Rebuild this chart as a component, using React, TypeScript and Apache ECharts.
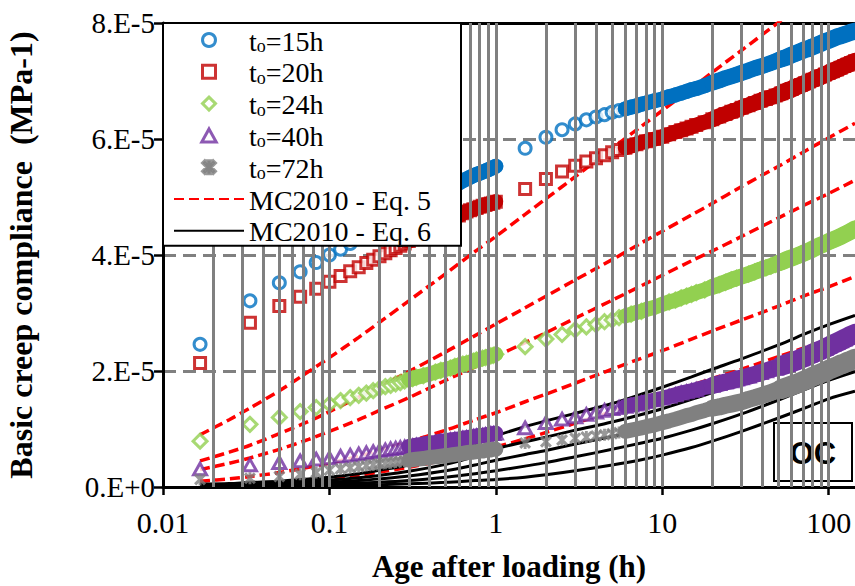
import React, { useEffect, useRef } from 'react';
import * as echarts from 'echarts';

// ---- measured data: age after loading (h) ----
const TIME_H = [
  0.0167, 0.0333, 0.05, 0.0667, 0.0833, 0.1, 0.1167, 0.1333, 0.15, 0.1667,
  0.1833, 0.2, 0.2167, 0.2333, 0.25, 0.2667, 0.2833, 0.3, 0.3167, 0.3333,
  0.3667, 0.4, 0.4333, 0.4667, 0.5, 0.5333, 0.5667, 0.6, 0.6333, 0.6667,
  0.7, 0.7333, 0.7667, 0.8, 0.8333, 0.8667, 0.9, 0.9333, 0.9667, 1.0,
  1.5, 2, 2.5, 3, 3.5, 4, 4.5, 5, 5.5, 6,
  6.5, 7, 7.5, 8, 9, 10, 11, 12, 13, 14,
  15, 16, 18, 20, 22, 24, 26, 28, 30, 33,
  36, 39, 42, 45, 48, 52, 56, 60, 64, 68,
  72, 76, 80, 85, 90, 95, 100, 106, 112, 118,
  124, 130, 136, 144,
];

// basic creep compliance, in 1e-5 MPa^-1
const J_T0_15H = [
  2.46, 3.21, 3.52, 3.71, 3.87, 4.0, 4.1, 4.2, 4.28, 4.35,
  4.42, 4.48, 4.54, 4.59, 4.64, 4.68, 4.72, 4.76, 4.8, 4.84,
  4.9, 4.96, 5.02, 5.07, 5.12, 5.16, 5.2, 5.24, 5.28, 5.31,
  5.34, 5.37, 5.39, 5.41, 5.43, 5.45, 5.47, 5.49, 5.51, 5.53,
  5.84, 6.03, 6.16, 6.26, 6.33, 6.38, 6.42, 6.46, 6.49, 6.52,
  6.55, 6.57, 6.6, 6.62, 6.66, 6.69, 6.73, 6.76, 6.79, 6.82,
  6.85, 6.87, 6.92, 6.97, 7.01, 7.05, 7.08, 7.11, 7.14, 7.18,
  7.22, 7.25, 7.28, 7.31, 7.34, 7.38, 7.41, 7.45, 7.48, 7.51,
  7.54, 7.56, 7.59, 7.62, 7.65, 7.68, 7.7, 7.73, 7.76, 7.78,
  7.8, 7.82, 7.84, 7.86,
];
const J_T0_20H = [
  2.14, 2.83, 3.12, 3.28, 3.42, 3.54, 3.64, 3.72, 3.79, 3.86,
  3.92, 3.98, 4.03, 4.08, 4.12, 4.16, 4.2, 4.24, 4.27, 4.31,
  4.37, 4.42, 4.47, 4.52, 4.56, 4.6, 4.64, 4.68, 4.72, 4.75,
  4.77, 4.79, 4.81, 4.83, 4.85, 4.86, 4.88, 4.89, 4.9, 4.92,
  5.14, 5.31, 5.44, 5.54, 5.61, 5.67, 5.72, 5.77, 5.81, 5.85,
  5.88, 5.91, 5.94, 5.96, 6.0, 6.04, 6.08, 6.12, 6.15, 6.18,
  6.21, 6.24, 6.29, 6.34, 6.39, 6.43, 6.47, 6.5, 6.54, 6.58,
  6.62, 6.66, 6.69, 6.72, 6.75, 6.79, 6.83, 6.86, 6.9, 6.93,
  6.96, 6.99, 7.02, 7.05, 7.08, 7.11, 7.14, 7.17, 7.2, 7.23,
  7.26, 7.28, 7.31, 7.34,
];
const J_T0_24H = [
  0.79, 1.08, 1.2, 1.3, 1.37, 1.43, 1.49, 1.54, 1.58, 1.62,
  1.66, 1.7, 1.73, 1.75, 1.78, 1.8, 1.83, 1.85, 1.87, 1.89,
  1.92, 1.95, 1.98, 2.01, 2.03, 2.05, 2.08, 2.1, 2.12, 2.13,
  2.15, 2.17, 2.19, 2.2, 2.22, 2.23, 2.25, 2.26, 2.27, 2.29,
  2.42, 2.55, 2.63, 2.71, 2.76, 2.8, 2.85, 2.88, 2.92, 2.95,
  2.98, 3.01, 3.03, 3.06, 3.1, 3.15, 3.19, 3.22, 3.26, 3.29,
  3.32, 3.35, 3.4, 3.45, 3.49, 3.53, 3.57, 3.6, 3.63, 3.67,
  3.71, 3.75, 3.78, 3.81, 3.84, 3.88, 3.92, 3.95, 3.98, 4.01,
  4.04, 4.07, 4.1, 4.14, 4.17, 4.2, 4.23, 4.26, 4.29, 4.32,
  4.35, 4.38, 4.41, 4.45,
];
const J_T0_40H = [
  0.31, 0.38, 0.42, 0.45, 0.48, 0.5, 0.53, 0.55, 0.57, 0.59,
  0.61, 0.63, 0.64, 0.66, 0.67, 0.68, 0.69, 0.7, 0.71, 0.72,
  0.74, 0.76, 0.77, 0.79, 0.8, 0.81, 0.82, 0.83, 0.84, 0.85,
  0.86, 0.87, 0.88, 0.89, 0.89, 0.9, 0.91, 0.92, 0.92, 0.93,
  1.02, 1.11, 1.17, 1.21, 1.25, 1.29, 1.32, 1.35, 1.37, 1.39,
  1.41, 1.43, 1.45, 1.47, 1.5, 1.53, 1.56, 1.59, 1.62, 1.64,
  1.66, 1.68, 1.72, 1.75, 1.78, 1.81, 1.83, 1.86, 1.88, 1.91,
  1.94, 1.97, 2.0, 2.03, 2.05, 2.09, 2.12, 2.15, 2.18, 2.21,
  2.24, 2.27, 2.3, 2.33, 2.36, 2.39, 2.42, 2.46, 2.49, 2.52,
  2.55, 2.58, 2.61, 2.64,
];
const J_T0_72H = [
  0.13, 0.15, 0.18, 0.22, 0.25, 0.29, 0.31, 0.33, 0.35, 0.37,
  0.38, 0.4, 0.41, 0.42, 0.43, 0.44, 0.45, 0.46, 0.47, 0.48,
  0.49, 0.51, 0.52, 0.53, 0.54, 0.55, 0.56, 0.57, 0.58, 0.59,
  0.6, 0.6, 0.61, 0.62, 0.62, 0.63, 0.64, 0.64, 0.65, 0.65,
  0.76, 0.78, 0.81, 0.84, 0.86, 0.88, 0.9, 0.92, 0.94, 0.96,
  0.98, 1.0, 1.02, 1.04, 1.07, 1.11, 1.14, 1.17, 1.2, 1.23,
  1.25, 1.28, 1.32, 1.36, 1.38, 1.41, 1.43, 1.45, 1.47, 1.51,
  1.54, 1.57, 1.6, 1.63, 1.66, 1.69, 1.72, 1.75, 1.78, 1.81,
  1.84, 1.87, 1.9, 1.93, 1.96, 1.99, 2.02, 2.05, 2.08, 2.11,
  2.13, 2.16, 2.18, 2.21,
];

// ---- model curves ----
const MODEL_T = [
  0.0167, 0.025, 0.0333, 0.05, 0.075, 0.1, 0.15, 0.2, 0.3, 0.5, 0.75, 1, 1.5,
  2, 3, 5, 7.5, 10, 15, 20, 30, 50, 75, 100, 144,
];
const EQ5_T0_15H = [0.9, 1.16, 1.36, 1.66, 1.99, 2.23, 2.58, 2.84, 3.21, 3.68, 4.06, 4.32, 4.7, 4.97, 5.35, 5.84, 6.22, 6.49, 6.87, 7.15, 7.53, 8.01, 8.39, 8.67, 9.01];
const EQ5_T0_20H = [0.45, 0.6, 0.72, 0.92, 1.13, 1.3, 1.55, 1.73, 1.99, 2.33, 2.61, 2.81, 3.09, 3.29, 3.57, 3.92, 4.21, 4.41, 4.69, 4.89, 5.18, 5.53, 5.82, 6.02, 6.27];
const EQ5_T0_24H = [0.3, 0.41, 0.5, 0.65, 0.82, 0.96, 1.16, 1.32, 1.54, 1.84, 2.07, 2.25, 2.49, 2.66, 2.91, 3.22, 3.47, 3.65, 3.9, 4.07, 4.32, 4.64, 4.89, 5.06, 5.29];
const EQ5_T0_40H = [0.1, 0.14, 0.18, 0.25, 0.34, 0.41, 0.53, 0.63, 0.78, 0.98, 1.16, 1.28, 1.47, 1.6, 1.79, 2.03, 2.22, 2.35, 2.55, 2.69, 2.88, 3.12, 3.32, 3.45, 3.63];
const EQ5_T0_72H = [0.03, 0.04, 0.06, 0.08, 0.12, 0.15, 0.2, 0.26, 0.34, 0.47, 0.6, 0.69, 0.83, 0.94, 1.1, 1.3, 1.46, 1.58, 1.75, 1.87, 2.03, 2.25, 2.42, 2.54, 2.69];
const EQ6_T0_15H = [0.05, 0.06, 0.08, 0.1, 0.14, 0.17, 0.23, 0.29, 0.38, 0.55, 0.73, 0.88, 1.04, 1.14, 1.27, 1.44, 1.6, 1.72, 1.9, 2.03, 2.21, 2.45, 2.66, 2.8, 2.96];
const EQ6_T0_20H = [0.03, 0.04, 0.05, 0.07, 0.1, 0.12, 0.16, 0.2, 0.27, 0.39, 0.53, 0.66, 0.78, 0.86, 0.98, 1.12, 1.25, 1.35, 1.51, 1.63, 1.81, 2.05, 2.25, 2.39, 2.54];
const EQ6_T0_24H = [0.02, 0.03, 0.035, 0.05, 0.07, 0.08, 0.11, 0.14, 0.19, 0.28, 0.38, 0.46, 0.56, 0.63, 0.74, 0.87, 0.98, 1.06, 1.2, 1.31, 1.48, 1.72, 1.92, 2.06, 2.22];
const EQ6_T0_40H = [0.01, 0.015, 0.02, 0.03, 0.04, 0.05, 0.07, 0.08, 0.11, 0.17, 0.23, 0.28, 0.36, 0.42, 0.52, 0.65, 0.76, 0.84, 0.98, 1.09, 1.26, 1.5, 1.7, 1.84, 1.99];
const EQ6_T0_72H = [0.005, 0.007, 0.01, 0.013, 0.018, 0.023, 0.03, 0.04, 0.055, 0.08, 0.11, 0.13, 0.17, 0.21, 0.28, 0.38, 0.47, 0.55, 0.68, 0.79, 0.96, 1.19, 1.38, 1.52, 1.65];

// ---- labels ----
const SERIES_NAMES = ['to=15h', 'to=20h', 'to=24h', 'to=40h', 'to=72h'];
const EQ5_NAME = 'MC2010 - Eq. 5';
const EQ6_NAME = 'MC2010 - Eq. 6';
const X_TICK_LABELS = ['0.01', '0.1', '1', '10', '100'];
const Y_TICK_LABELS = ['0.E+0', '2.E-5', '4.E-5', '6.E-5', '8.E-5'];
const X_NAME = 'Age after loading (h)';
const Y_NAME = 'Basic creep compliance  (MPa-1)';
const PANEL_TAG = 'OC';

const UNIT = 1e-5;
const SERIF = 'Liberation Serif';
const SQUARE = 'path://M0,0 L10,0 L10,10 L0,10 Z';
const DIAMOND = 'path://M5,0 L10,5 L5,10 L0,5 Z';
const TRIANGLE = 'path://M5,0 L10,9 L0,9 Z';
const STAR =
  'path://M3.8,0 L6.2,0 L6.2,10 L3.8,10 Z M0,1.8 L1.8,0 L10,8.2 L8.2,10 Z M8.2,0 L10,1.8 L1.8,10 L0,8.2 Z';

const pairs = (xs: number[], ys: number[]) => xs.map((x, i) => [x, ys[i] * UNIT]);

export default function App() {
  const ref = useRef<HTMLDivElement>(null);
  useEffect(() => {
    if (!ref.current) return;
    const chart = echarts.init(ref.current, null, { renderer: 'svg' });

    const measured = [
      { values: J_T0_15H, color: '#0070C0', symbol: 'circle', size: 12, hollow: true, band: [15, 16, 17] },
      { values: J_T0_20H, color: '#C00000', symbol: SQUARE, size: 11, hollow: true, band: [15, 16, 17] },
      { values: J_T0_24H, color: '#92D050', symbol: DIAMOND, size: 14, hollow: true, band: [15, 16, 17] },
      { values: J_T0_40H, color: '#7030A0', symbol: TRIANGLE, size: 13, hollow: true, band: [15, 17, 20] },
      { values: J_T0_72H, color: '#808080', symbol: STAR, size: 12, hollow: false, band: [15, 17, 20] },
    ];
    // [from h, to h, band stage]
    const bandRanges = [
      [0.3, 1.0, 0],
      [6, 144, 0],
      [20, 144, 1],
      [50, 144, 2],
    ];

    const series: any[] = [];
    // vertical grid lines (log minor grid)
    const gridX: number[] = [];
    [0.01, 0.1, 1, 10].forEach((d) => {
      for (let m = 2; m <= 10; m++) gridX.push(+(d * m).toPrecision(6));
    });
    series.push({
      type: 'line',
      data: [[0.01, 0]],
      symbol: 'none',
      silent: true,
      z: 1,
      lineStyle: { opacity: 0 },
      markLine: {
        silent: true,
        symbol: ['none', 'none'],
        label: { show: false },
        emphasis: { disabled: true },
        lineStyle: { type: 'solid', color: '#808080', width: 3 },
        data: gridX.map((v) => ({ xAxis: v })),
      },
    });

    const eq5 = [EQ5_T0_15H, EQ5_T0_20H, EQ5_T0_24H, EQ5_T0_40H, EQ5_T0_72H];
    const eq6 = [EQ6_T0_15H, EQ6_T0_20H, EQ6_T0_24H, EQ6_T0_40H, EQ6_T0_72H];
    eq5.forEach((vals) =>
      series.push({
        type: 'line',
        name: EQ5_NAME,
        data: pairs(MODEL_T, vals),
        symbol: 'none',
        smooth: 0.3,
        z: 2,
        itemStyle: { color: '#FF0000', opacity: 0 },
        lineStyle: { color: '#FF0000', width: 3.5, type: [10, 5] },
      })
    );
    eq6.forEach((vals) =>
      series.push({
        type: 'line',
        name: EQ6_NAME,
        data: pairs(MODEL_T, vals),
        symbol: 'none',
        smooth: 0.3,
        z: 2,
        itemStyle: { color: '#000', opacity: 0 },
        lineStyle: { color: '#000', width: 3 },
      })
    );

    measured.forEach((m, k) => {
      const pts = pairs(TIME_H, m.values);
      series.push({
        type: 'scatter',
        name: SERIES_NAMES[k],
        data: pts,
        symbol: m.symbol,
        symbolSize: m.size,
        symbolKeepAspect: true,
        z: 3,
        itemStyle: m.hollow
          ? { color: '#fff', borderColor: m.color, borderWidth: 3 }
          : { color: m.color, borderColor: m.color, borderWidth: 0 },
      });
      bandRanges.forEach(([a, b, stage]) => {
        series.push({
          type: 'line',
          data: pts.filter((p) => p[0] >= a && p[0] <= b),
          symbol: 'none',
          silent: true,
          z: 4,
          lineStyle: { color: m.color, width: m.band[stage], cap: 'round', join: 'round' },
        });
      });
    });

    const option: any = {
      animation: false,
      grid: { left: 163, right: 0, top: 23, bottom: 99, containLabel: false, outerBoundsMode: 'none' },
      legend: {
        orient: 'vertical',
        left: 163,
        top: 23,
        data: [
          ...SERIES_NAMES.map((n) => ({ name: n })),
          { name: EQ5_NAME, itemStyle: { opacity: 0 } },
          { name: EQ6_NAME, itemStyle: { opacity: 0 } },
        ],
        itemWidth: 70,
        itemHeight: 13,
        itemGap: 1.8,
        padding: [2, 30, 0, 10],
        backgroundColor: '#fff',
        borderColor: '#000',
        borderWidth: 2,
        selectedMode: false,
        z: 10,
        itemStyle: { borderWidth: 3 },
        formatter: (name: string) =>
          name.startsWith('to=') ? `{t|t}{s|o}{t|${name.slice(2)}}` : `{t|${name}}`,
        textStyle: {
          fontFamily: SERIF,
          fontSize: 28,
          lineHeight: 30,
          color: '#000',
          rich: {
            t: { fontFamily: SERIF, fontSize: 28, lineHeight: 30, color: '#000', verticalAlign: 'bottom' },
            s: { fontFamily: SERIF, fontSize: 18, lineHeight: 19, color: '#000', verticalAlign: 'bottom' },
          },
        },
      },
      xAxis: [
        {
          type: 'log',
          logBase: 10,
          min: 0.01,
          max: 144,
          position: 'bottom',
          axisLine: { show: true, onZero: false, lineStyle: { color: '#000', width: 3 } },
          axisTick: { show: true, inside: false, length: 8, lineStyle: { color: '#000', width: 2.5 } },
          axisLabel: {
            fontFamily: SERIF,
            fontSize: 30,
            color: '#000',
            margin: 20,
            showMaxLabel: false,
            formatter: (v: number) => {
              const e = Math.round(Math.log10(v)) + 2;
              return Math.abs(Math.log10(v) + 2 - e) < 1e-6 ? X_TICK_LABELS[e] ?? '' : '';
            },
          },
          splitLine: { show: false },
          name: X_NAME,
          nameLocation: 'middle',
          nameGap: 64,
          nameTextStyle: { fontFamily: SERIF, fontWeight: 'bold', fontSize: 31, color: '#000' },
        },
        {
          type: 'log',
          logBase: 10,
          min: 0.01,
          max: 144,
          position: 'top',
          axisLine: { show: true, onZero: false, lineStyle: { color: '#000', width: 3 } },
          axisTick: { show: false },
          axisLabel: { show: false },
          splitLine: { show: false },
        },
      ],
      yAxis: {
        type: 'value',
        min: 0,
        max: 8e-5,
        interval: 2e-5,
        axisLine: { show: true, lineStyle: { color: '#000', width: 3 } },
        axisTick: { show: true, inside: false, length: 9, lineStyle: { color: '#000', width: 2.5 } },
        axisLabel: {
          fontFamily: SERIF,
          fontSize: 29,
          color: '#000',
          margin: 8,
          formatter: (v: number) => Y_TICK_LABELS[Math.round(v / 2e-5)] ?? '',
        },
        splitLine: { show: true, lineStyle: { color: '#808080', width: 3, type: [13, 7] } },
        name: Y_NAME,
        nameLocation: 'middle',
        nameGap: 126,
        nameTextStyle: { fontFamily: SERIF, fontWeight: 'bold', fontSize: 32, color: '#000' },
      },
      graphic: [
        {
          type: 'group',
          x: 774,
          y: 423,
          z: 100,
          children: [
            { type: 'rect', shape: { x: 0, y: 0, width: 78, height: 58 }, style: { fill: '#fff', stroke: '#000', lineWidth: 2 } },
            {
              type: 'text',
              x: 39,
              y: 30,
              style: { text: PANEL_TAG, font: 'bold 31px "Liberation Sans"', fill: '#000', align: 'center', verticalAlign: 'middle' },
            },
          ],
        },
      ],
      series,
    };
    chart.setOption(option);
    return () => chart.dispose();
  }, []);
  return <div ref={ref} style={{ position: 'absolute', left: 0, top: 0, width: 855, height: 586 }} />;
}
